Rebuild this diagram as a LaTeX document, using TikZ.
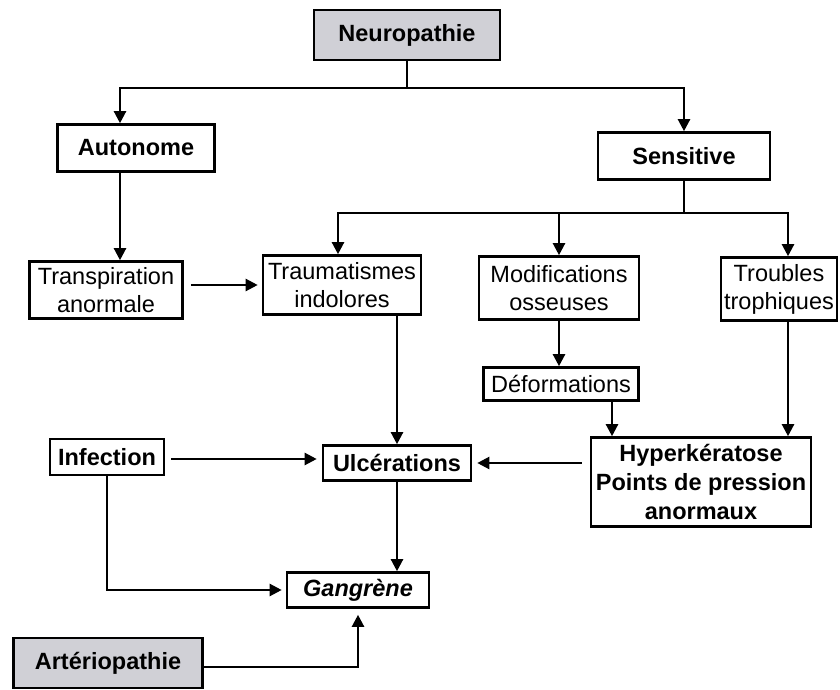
\documentclass[tikz,border=0pt]{standalone}
\usepackage{fontspec}
\setmainfont{Liberation Sans}
\usetikzlibrary{arrows.meta}
\definecolor{boxgray}{RGB}{208,208,214}
\tikzset{
  box/.style={draw, line width=2.6pt, inner sep=0pt, align=center, font=\fontsize{23.5}{28}\selectfont},
  bbox/.style={box, font=\fontsize{23.5}{29}\selectfont\bfseries},
  gbox/.style={bbox, fill=boxgray},
  arr/.style={line width=2.3pt, -{Triangle[length=12pt,width=12pt]}},
  ln/.style={line width=2.3pt},
}
\begin{document}
\begin{tikzpicture}[x=1pt,y=-1pt]
\useasboundingbox (0,0) rectangle (840,690);
\node[gbox, minimum width=186pt, minimum height=50pt] (neuro) at (407,35) {Neuropathie};
\node[bbox, minimum width=157pt, minimum height=47pt] (auto) at (136,148) {Autonome};
\node[bbox, minimum width=172pt, minimum height=47pt] (sens) at (684,156) {Sensitive};
\node[box, minimum width=153pt, minimum height=57pt] (transp) at (106,290) {Transpiration\\anormale};
\node[box, minimum width=158pt, minimum height=59pt] (trauma) at (342,285) {Traumatismes\\indolores};
\node[box, minimum width=160pt, minimum height=63pt] (modif) at (559,288) {Modifications\\osseuses};
\node[box, minimum width=116pt, minimum height=63pt] (troub) at (779,289) {Troubles\\trophiques};
\node[box, minimum width=155pt, minimum height=33pt] (deform) at (561,384) {Déformations};
\node[bbox, minimum width=220pt, minimum height=89pt] (hyper) at (701,482) {Hyperkératose\\Points de pression\\anormaux};
\node[bbox, minimum width=148pt, minimum height=35pt] (ulcer) at (397,463) {Ulcérations};
\node[bbox, minimum width=114pt, minimum height=36pt] (infect) at (107,457) {Infection};
\node[bbox, minimum width=142pt, minimum height=35pt, font=\fontsize{23.5}{28}\selectfont\bfseries\itshape] (gang) at (358,590) {Gangrène};
\node[gbox, minimum width=189pt, minimum height=50pt] (arter) at (108,663) {Artériopathie};

\coordinate (j1) at (407,88);
\coordinate (j2) at (684,213);
\draw[ln] (neuro.south) -- (j1);
\draw[arr] (j1) -| ([xshift=-16pt]auto.north);
\draw[arr] (j1) -| (sens.north);
\draw[arr] ([xshift=-16pt]auto.south) -- ([xshift=-16pt]auto.south |- transp.north);
\draw[arr, shorten <=7pt, shorten >=4pt] (transp.east |- trauma.west) -- (trauma.west);
\draw[ln] (sens.south) -- (j2);
\draw[arr] (j2) -| ([xshift=-4pt]trauma.north);
\draw[arr] (j2) -| (modif.north);
\draw[arr] (j2) -| ([xshift=9pt]troub.north);
\draw[arr] (modif.south) -- (modif.south |- deform.north);
\draw[arr] ([xshift=51pt]deform.south) -- ([xshift=51pt]deform.south |- hyper.north);
\draw[arr] ([xshift=9pt]troub.south) -- ([xshift=9pt]troub.south |- hyper.north);
\draw[arr, shorten <=8pt, shorten >=5pt] (hyper.west |- ulcer.east) -- (ulcer.east);
\draw[arr] (trauma.south -| ulcer.north) -- (ulcer.north);
\draw[arr, shorten <=6pt, shorten >=5pt] (infect.east |- 0,459) -- (ulcer.west |- 0,459);
\draw[arr, shorten >=4pt] (infect.south) |- (gang.west);
\draw[arr] (ulcer.south) -- (ulcer.south |- gang.north);
\draw[arr, shorten >=6pt] (arter.east |- 0,667) -| (gang.south);
\end{tikzpicture}
\end{document}
